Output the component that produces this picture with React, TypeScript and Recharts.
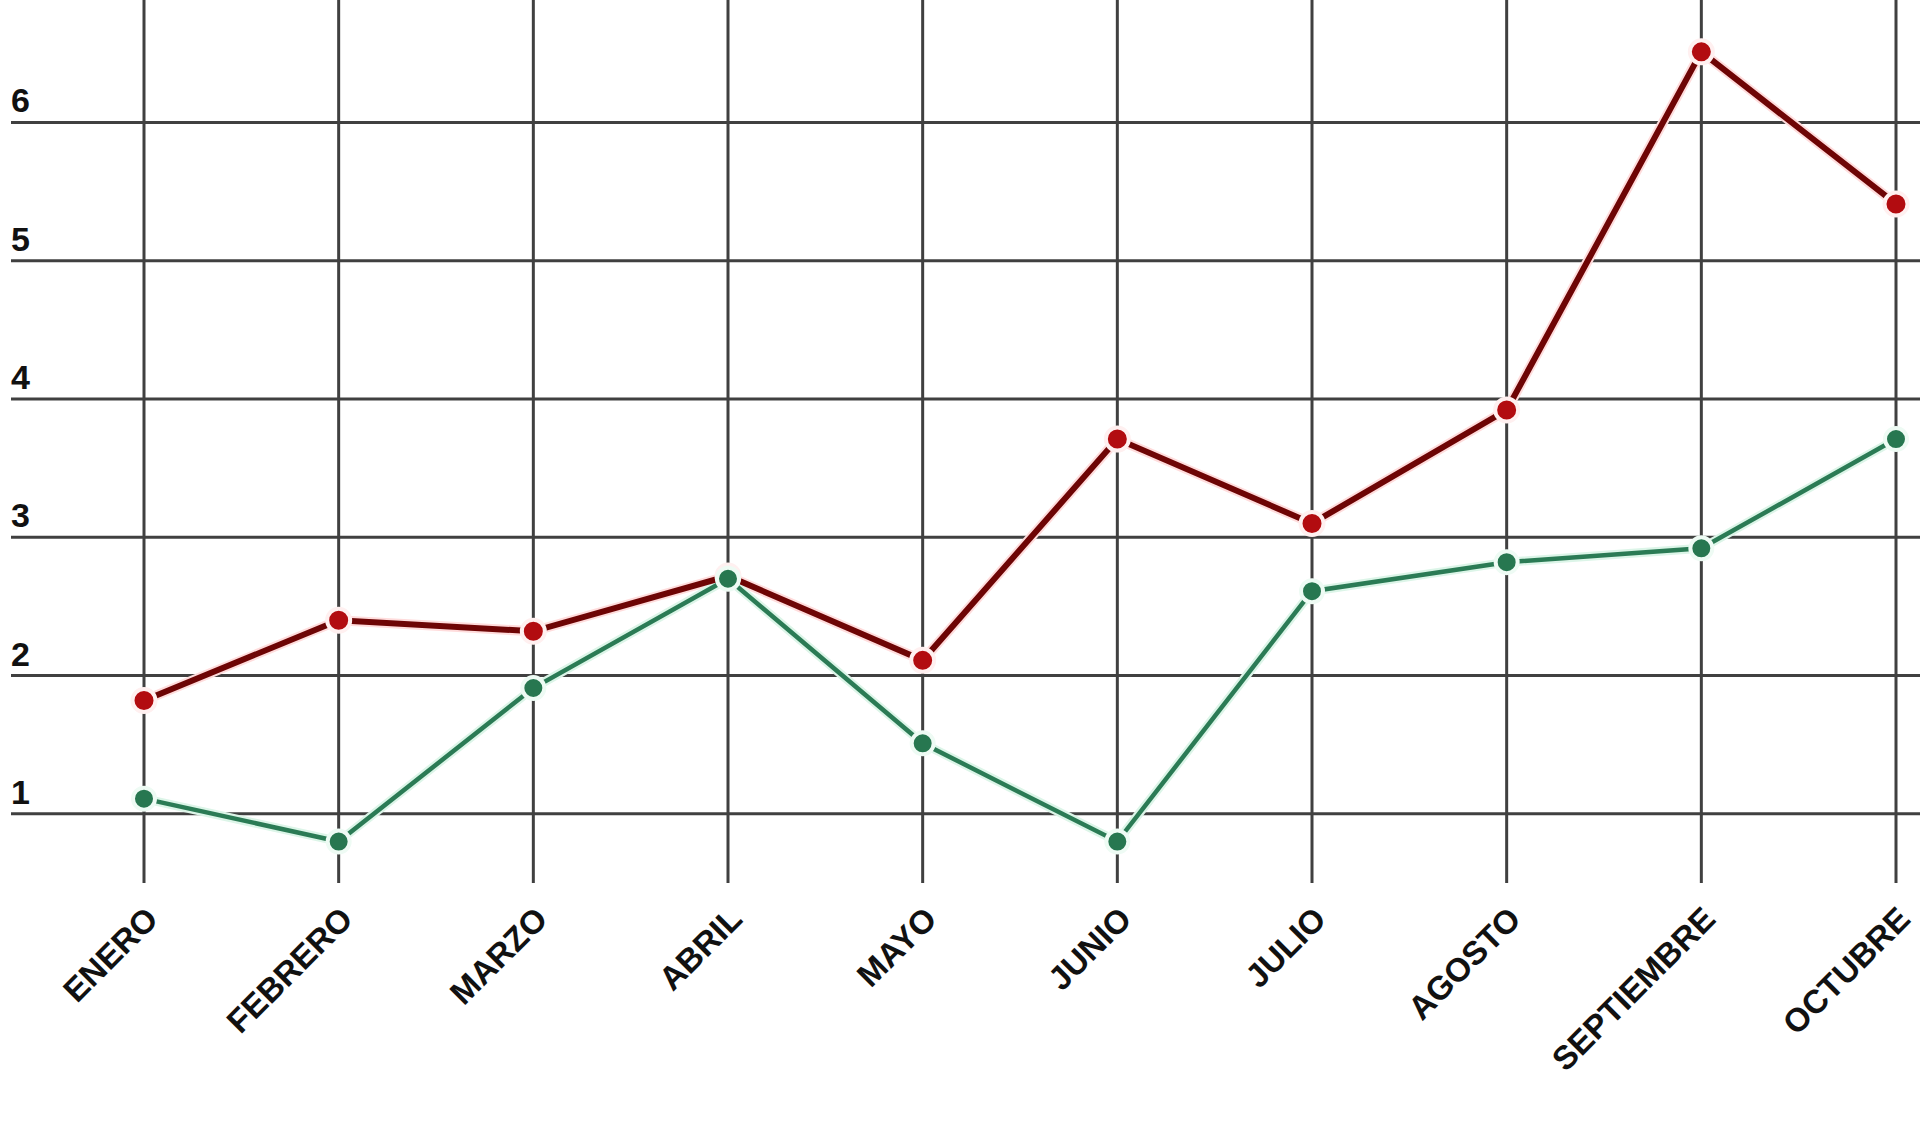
import React from "react";
import { LineChart, Line, XAxis, YAxis, CartesianGrid } from "recharts";

const months = [
  "ENERO",
  "FEBRERO",
  "MARZO",
  "ABRIL",
  "MAYO",
  "JUNIO",
  "JULIO",
  "AGOSTO",
  "SEPTIEMBRE",
  "OCTUBRE",
];
const redValues = [1.82, 2.4, 2.32, 2.72, 2.11, 3.71, 3.1, 3.92, 6.51, 5.41];
const greenValues = [1.11, 0.8, 1.91, 2.7, 1.51, 0.8, 2.61, 2.82, 2.92, 3.71];
const yTicks = [1, 2, 3, 4, 5, 6];

const data = months.map((name, i) => ({
  name,
  red: redValues[i],
  green: greenValues[i],
}));

const FONT = "'Liberation Sans', Arial, sans-serif";

const MonthTick = ({ x, y, payload }: any) => (
  <g transform={`translate(${x + 16},${y + 38})`}>
    <text
      transform="rotate(-45)"
      textAnchor="end"
      fill="#111"
      fontFamily={FONT}
      fontWeight={700}
      fontSize={33}
    >
      {payload.value}
    </text>
  </g>
);

const ValueTick = ({ y, payload }: any) => (
  <text x={11} y={y - 10} textAnchor="start" fill="#111" fontFamily={FONT} fontWeight={700} fontSize={34}>
    {payload.value}
  </text>
);

export default function App() {
  return (
    <div style={{ position: "absolute", left: 0, top: 0, width: 1920, height: 1146, background: "#fff" }}>
      <LineChart width={1920} height={1146} data={data} margin={{ top: 0, right: 0, left: 0, bottom: 0 }}>
        <CartesianGrid stroke="#404040" strokeWidth={3} syncWithTicks />
        <XAxis
          dataKey="name"
          height={263}
          padding={{ left: 133, right: 24 }}
          axisLine={false}
          tickLine={false}
          tickSize={0}
          tickMargin={0}
          interval={0}
          tick={<MonthTick />}
        />
        <YAxis
          width={11}
          domain={[0.5, 6.885]}
          ticks={yTicks}
          interval={0}
          axisLine={false}
          tickLine={false}
          tick={<ValueTick />}
        />
        <Line dataKey="red" stroke="#ffdcdc" strokeWidth={10} dot={false} activeDot={false} legendType="none" isAnimationActive={false} />
        <Line dataKey="green" stroke="#dcf5e8" strokeWidth={9} dot={false} activeDot={false} legendType="none" isAnimationActive={false} />
        <Line
          dataKey="red"
          stroke="#6e0505"
          strokeWidth={6}
          dot={{ r: 11.5, fill: "#b20c10", stroke: "#fff0f0", strokeWidth: 4 }}
          activeDot={false}
          isAnimationActive={false}
        />
        <Line
          dataKey="green"
          stroke="#2b7b55"
          strokeWidth={4.5}
          dot={{ r: 11, fill: "#277750", stroke: "#eefbf4", strokeWidth: 4 }}
          activeDot={false}
          isAnimationActive={false}
        />
      </LineChart>
    </div>
  );
}
